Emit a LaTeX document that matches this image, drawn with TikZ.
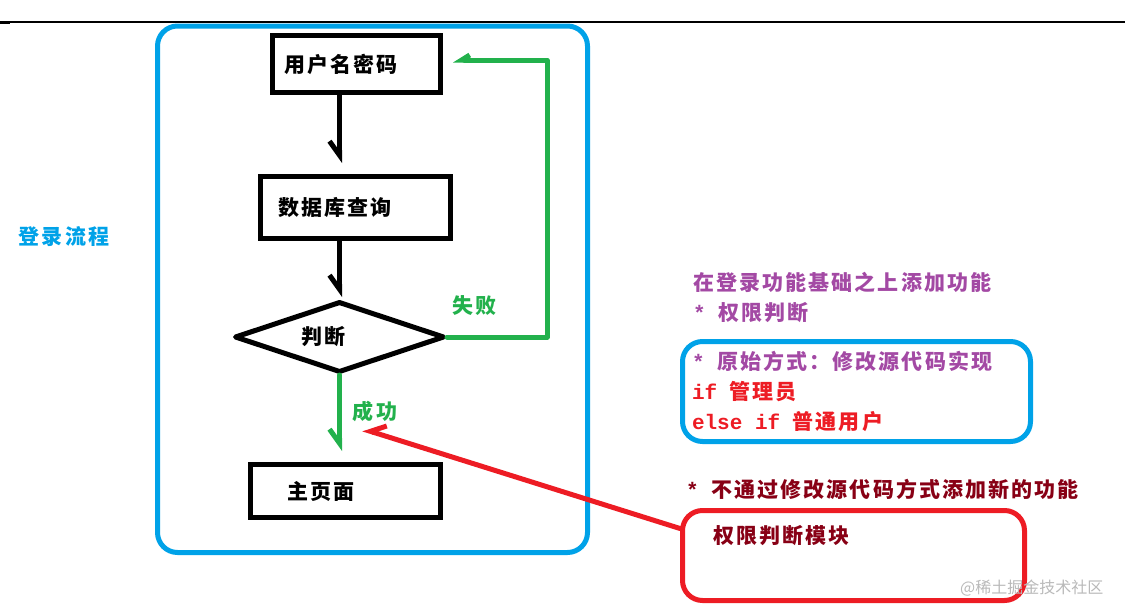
\documentclass[tikz,border=0pt]{standalone}
\usepackage{fontspec}
\usetikzlibrary{arrows.meta,shapes.geometric}
\newfontfamily\cjk[LetterSpace=10]{Noto Sans CJK SC}
\newfontfamily\wmfont{Noto Sans CJK SC}
\newfontfamily\codefont{Liberation Mono}
\definecolor{skyblue}{RGB}{0,162,232}
\definecolor{okgreen}{RGB}{34,177,76}
\definecolor{plum}{RGB}{163,73,164}
\definecolor{alarm}{RGB}{237,28,36}
\definecolor{wine}{RGB}{136,0,21}
\newcommand\cgap{\hspace{12.6pt}}
\begin{document}
\begin{tikzpicture}[x=1pt,y=-1pt,
  every node/.style={inner sep=0pt,font=\cjk\bfseries\fontsize{21}{30}\selectfont},
  barbR/.tip={Straight Barb[harpoon,swap,length=14pt,width=20pt]},
  barbS/.tip={Straight Barb[harpoon,swap,length=8pt,width=10pt]},
  flowbox/.style={draw,line width=5pt,align=left,inner ysep=0pt},
  flow/.style={line width=5pt,line cap=round,line join=round,-{barbR}},
  frame/.style={draw=skyblue,line width=5pt,rounded corners=20pt}]
\useasboundingbox (0,0) rectangle (1125,605);
\draw[line width=1.2pt] (0,22)--(1125,22);
\draw[line width=2.5pt] (0,22.5)--(10,22.5);
% login flow
\draw[frame] (157.5,26) rectangle (587.5,552.5);
\node[skyblue] (title) at (64,237) {登录流程};
\node[flowbox,text width=144pt,inner xsep=12pt,minimum height=57pt] (user) at (356.5,64) {用户名密码};
\node[flowbox,text width=155pt,inner xsep=17.5pt,minimum height=62pt] (query) at (355.5,207.5) {数据库查询};
\node[draw,diamond,line width=5pt,line join=round,minimum width=210pt,minimum height=71pt] (judge) at (339.5,337) {};
\node (judgetext) at (323.5,337) {判断};
\node[flowbox,text width=117pt,inner xsep=36.5pt,minimum height=53pt] (home) at (345.5,491) {主页面};
\draw[flow] (user.south -| judge.north)--([yshift=11pt]query.north -| judge.north);
\draw[flow] (query.south -| judge.north)--([yshift=2pt]judge.north);
\coordinate (retry) at (547,60);
\draw[flow,okgreen,-{barbS}] (judge.east)-|(retry)--([xshift=10pt,yshift=4pt]user.east);
\draw[flow,okgreen] (judge.south)--([yshift=11pt]home.north -| judge.south);
\node[okgreen] (fail) at (474.5,306) {失败};
\node[okgreen] (pass) at (375,411) {成功};
% new feature
\node[anchor=west,align=left,plum] (goal) at (693,297.5) {在登录功能基础之上添加功能\\{\codefont*}\cgap 权限判断};
\node[frame,text width=329pt,inner xsep=9.5pt,minimum height=100pt,align=left] (legacy) at (856.5,391.5)
  {\textcolor{plum}{{\codefont*}\cgap 原始方式：修改源代码实现}\\
   \textcolor{alarm}{{\codefont if}\cgap 管理员}\\
   \textcolor{alarm}{{\codefont else}\cgap{\codefont if}\cgap 普通用户}};
\node[anchor=west,wine] (idea) at (686,489) {{\codefont*}\cgap 不通过修改源代码方式添加新的功能};
\node[draw=alarm,line width=5pt,rounded corners=20pt,minimum width=342pt,minimum height=90pt] (perm) at (853.5,555.5) {};
\node[anchor=west,wine] (permtext) at (713,536) {权限判断模块};
\coordinate (hint) at (363,429);
\draw[flow,alarm] ([yshift=27pt]perm.west)--(hint);
\node[anchor=west,gray!55,font=\wmfont\fontsize{16}{16}\selectfont] (mark) at (960,588) {@稀土掘金技术社区};
\end{tikzpicture}
\end{document}
